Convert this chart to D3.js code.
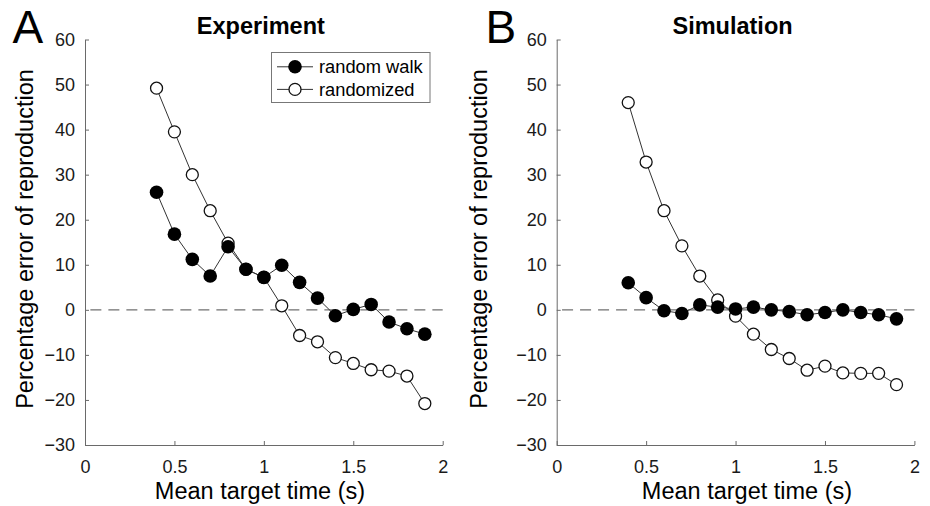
<!DOCTYPE html>
<html>
<head>
<meta charset="utf-8">
<script src="https://cdn.jsdelivr.net/npm/d3@7"></script>
<style>
  body { margin: 0; background: #fff; }
  svg { font-family: "Liberation Sans", Arial, Helvetica, sans-serif; }
</style>
</head>
<body>
<svg id="fig"></svg>
<script>
// mean target times (s)
const targetTimes = [0.4, 0.5, 0.6, 0.7, 0.8, 0.9, 1.0, 1.1, 1.2, 1.3, 1.4, 1.5, 1.6, 1.7, 1.8, 1.9];

// percentage error of reproduction
const expRandomWalk = [26.1, 16.8, 11.2, 7.5, 14.0, 9.0, 7.2, 9.9, 6.1, 2.6, -1.3, 0.1, 1.2, -2.7, -4.2, -5.4];
const expRandomized = [49.2, 39.5, 30.0, 22.0, 14.8, 9.0, 7.2, 0.9, -5.7, -7.1, -10.6, -11.9, -13.3, -13.6, -14.7, -20.8];
const simRandomWalk = [6.0, 2.7, -0.2, -0.8, 1.1, 0.6, 0.2, 0.6, 0.0, -0.4, -1.1, -0.6, 0.0, -0.6, -1.1, -2.0];
const simRandomized = [46.0, 32.8, 22.0, 14.2, 7.5, 2.2, -1.4, -5.4, -8.8, -10.8, -13.4, -12.5, -14.0, -14.1, -14.1, -16.6];

const seriesNames = ['random walk', 'randomized'];
const xTicks = [0, 0.5, 1, 1.5, 2];
const xTickLabels = ['0', '0.5', '1', '1.5', '2'];
const yTicks = [-30, -20, -10, 0, 10, 20, 30, 40, 50, 60];

class ErrorPanel {

    constructor(config, walk, rand) {
        this.config = {
            parent: config.parent,
            left: config.left,
            top: config.top || 39.5,
            width: config.width || 357.7,
            height: config.height || 405.5,
            letter: config.letter || '',
            letterX: config.letterX,
            title: config.title || '',
            ylabelX: config.ylabelX,
            xlabelX: config.xlabelX,
            legend: config.legend || false
        };
        this.walk = targetTimes.map((t, i) => ({x: t, y: walk[i]}));
        this.rand = targetTimes.map((t, i) => ({x: t, y: rand[i]}));
        this.init();
    }

    init() {
        let self = this;
        self.chart = self.config.parent.append('g')
            .attr('transform', `translate(${self.config.left}, ${self.config.top})`);

        self.xscale = d3.scaleLinear().domain([0, 2]).range([0, self.config.width]);
        self.yscale = d3.scaleLinear().domain([-30, 60]).range([self.config.height, 0]);

        self.xaxis = d3.axisBottom(self.xscale)
            .tickValues(xTicks)
            .tickFormat((d, i) => xTickLabels[i])
            .tickSizeInner(-4).tickSizeOuter(0).tickPadding(15);

        self.yaxis = d3.axisLeft(self.yscale)
            .tickValues(yTicks)
            .tickFormat(d3.format('d'))
            .tickSizeInner(-4).tickSizeOuter(0).tickPadding(10);

        self.render();
    }

    styleAxis(g) {
        g.select('.domain').attr('stroke', '#6a6a6a').attr('stroke-width', 1);
        g.selectAll('.tick line').attr('stroke', '#6a6a6a');
        g.selectAll('.tick text').attr('font-size', 18).attr('fill', '#1a1a1a')
            .attr('font-family', '"Liberation Sans", Arial, sans-serif');
    }

    render() {
        let self = this;
        const W = self.config.width, H = self.config.height;

        // zero reference line
        self.chart.append('line')
            .attr('x1', self.xscale(0.03)).attr('x2', self.xscale(2))
            .attr('y1', self.yscale(0)).attr('y2', self.yscale(0))
            .attr('stroke', '#707070').attr('stroke-width', 1.1)
            .attr('stroke-dasharray', '11,7');

        const line = d3.line().x(d => self.xscale(d.x)).y(d => self.yscale(d.y));

        self.chart.append('path').attr('d', line(self.rand))
            .attr('fill', 'none').attr('stroke', '#333').attr('stroke-width', 1);
        self.chart.append('path').attr('d', line(self.walk))
            .attr('fill', 'none').attr('stroke', '#333').attr('stroke-width', 1);

        self.chart.append('g').selectAll('circle')
            .data(self.rand).enter().append('circle')
            .attr('cx', d => self.xscale(d.x)).attr('cy', d => self.yscale(d.y))
            .attr('r', 6).attr('fill', '#fff').attr('stroke', '#111').attr('stroke-width', 1.3);

        self.chart.append('g').selectAll('circle')
            .data(self.walk).enter().append('circle')
            .attr('cx', d => self.xscale(d.x)).attr('cy', d => self.yscale(d.y))
            .attr('r', 6.8).attr('fill', '#000');

        self.chart.append('g')
            .attr('transform', `translate(0, ${H})`)
            .call(self.xaxis)
            .call(g => self.styleAxis(g));

        self.chart.append('g')
            .call(self.yaxis)
            .call(g => self.styleAxis(g));

        // title
        self.chart.append('text')
            .attr('x', W / 2 - 3).attr('y', -6)
            .attr('text-anchor', 'middle')
            .attr('font-size', 23.5).attr('font-weight', 'bold')
            .text(self.config.title);

        // panel letter
        self.config.parent.append('text')
            .attr('x', self.config.letterX).attr('y', 43)
            .attr('font-size', 46)
            .text(self.config.letter);

        // x label
        self.config.parent.append('text')
            .attr('x', self.config.xlabelX).attr('y', 499)
            .attr('text-anchor', 'middle')
            .attr('font-size', 23.5)
            .text('Mean target time (s)');

        // y label
        self.config.parent.append('text')
            .attr('transform', `translate(${self.config.ylabelX}, 239) rotate(-90)`)
            .attr('text-anchor', 'middle')
            .attr('font-size', 23.5)
            .text('Percentage error of reproduction');

        if (self.config.legend) self.drawLegend();
    }

    drawLegend() {
        let self = this;
        const lg = self.config.parent.append('g').attr('transform', 'translate(271.5, 52.5)');
        lg.append('rect')
            .attr('width', 158.5).attr('height', 50)
            .attr('fill', '#fff').attr('stroke', '#777').attr('stroke-width', 1);

        const rows = lg.selectAll('.row')
            .data(seriesNames).enter().append('g')
            .attr('transform', (d, i) => `translate(0, ${14.3 + i * 22.6})`);

        rows.append('line')
            .attr('x1', 5.5).attr('x2', 41.5)
            .attr('stroke', '#333').attr('stroke-width', 1);

        rows.append('circle')
            .attr('cx', 23.5).attr('r', (d, i) => i === 0 ? 6.8 : 6)
            .attr('fill', (d, i) => i === 0 ? '#000' : '#fff')
            .attr('stroke', (d, i) => i === 0 ? 'none' : '#111')
            .attr('stroke-width', 1.3);

        rows.append('text')
            .attr('x', 47.5).attr('dy', '0.35em')
            .attr('font-size', 18.3)
            .text(d => d);
    }
}

const svg = d3.select('#fig').attr('width', 930).attr('height', 506);

new ErrorPanel({
    parent: svg, left: 85, letter: 'A', letterX: 12.5,
    title: 'Experiment', ylabelX: 33, xlabelX: 260, legend: true
}, expRandomWalk, expRandomized);

new ErrorPanel({
    parent: svg, left: 556.7, letter: 'B', letterX: 485.5,
    title: 'Simulation', ylabelX: 487, xlabelX: 747
}, simRandomWalk, simRandomized);
</script>
</body>
</html>
